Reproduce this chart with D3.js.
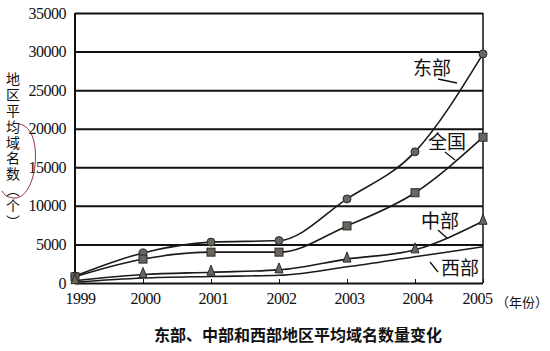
<!DOCTYPE html>
<html>
<head>
<meta charset="utf-8">
<script src="https://cdn.jsdelivr.net/npm/d3@7"></script>
<style>
  body { margin: 0; background: #fff; }
  svg { display: block; }
</style>
</head>
<body>
<svg id="plot" width="550" height="351"></svg>
<script>
// data
let years = [1999, 2000, 2001, 2002, 2003, 2004, 2005];
let east = [900, 3900, 5300, 5500, 10900, 17000, 29700];      // 东部
let nation = [800, 3100, 4000, 4000, 7400, 11700, 18900];     // 全国
let central = [300, 1100, 1400, 1700, 3100, 4300, 8000];      // 中部
let west = [100, 650, 850, 1000, 2100, 3400, 4700];           // 西部
let y_ticks = [0, 5000, 10000, 15000, 20000, 25000, 30000, 35000];
let y_title = "地区平均域名数（个）";

let svg = d3.select("#plot");
let plot_left = 75, plot_right = 483, plot_top = 13, plot_bottom = 283;
let numFont = "'Liberation Serif', 'DejaVu Serif', serif";
let cjkFont = "'Noto Sans CJK SC', sans-serif";

let x_scale = d3.scaleLinear([1999, 2005], [plot_left, plot_right]);
let y_scale = d3.scaleLinear([0, 35000], [plot_bottom, plot_top]);

// gridlines + y labels
let y_ax = svg.append("g")
  .attr("transform", `translate(${plot_left},0)`)
  .call(d3.axisLeft(y_scale).tickValues(y_ticks).tickSize(-(plot_right - plot_left)).tickPadding(9).tickFormat(d3.format("d")));
y_ax.select(".domain").remove();
y_ax.selectAll("line").attr("stroke", "#111").attr("stroke-width", 2);
y_ax.selectAll("text").attr("font-family", numFont).attr("font-size", 16).attr("fill", "#111").attr("letter-spacing", -0.5);

// frame sides
svg.append("line").attr("x1", plot_left).attr("x2", plot_left).attr("y1", plot_top).attr("y2", plot_bottom)
  .attr("stroke", "#111").attr("stroke-width", 2);
svg.append("line").attr("x1", plot_right).attr("x2", plot_right).attr("y1", plot_top).attr("y2", plot_bottom)
  .attr("stroke", "#111").attr("stroke-width", 1.5);

// x axis, ticks pointing inward
let x_ax = svg.append("g")
  .attr("transform", `translate(0,${plot_bottom})`)
  .call(d3.axisBottom(x_scale).tickValues(years).tickSize(-4).tickPadding(10).tickFormat(d3.format("d")));
x_ax.select(".domain").remove();
x_ax.selectAll("line").attr("stroke", "#111").attr("stroke-width", 1);
x_ax.selectAll("text").attr("font-family", numFont).attr("font-size", 16).attr("fill", "#111")
  .attr("dx", (d) => d == 1999 ? 5 : d == 2005 ? -6 : 2).attr("letter-spacing", -0.5);

svg.append("text").attr("x", 496).attr("y", 307)
  .attr("font-family", cjkFont).attr("font-size", 13).attr("fill", "#111")
  .text("（年份）");

// lines
let line = d3.line().x((d, i) => x_scale(years[i])).y((d) => y_scale(d)).curve(d3.curveMonotoneX);
let series = [east, nation, central, west];
svg.append("g").selectAll("path")
  .data(series)
  .join("path")
  .attr("d", line)
  .attr("fill", "none")
  .attr("stroke", "#1a1a1a")
  .attr("stroke-width", 1.6);

let markFill = "#6b6560", markStroke = "#2b2826";

// 东部: round markers
svg.append("g").selectAll("circle")
  .data(east)
  .join("circle")
  .attr("cx", (d, i) => x_scale(years[i]))
  .attr("cy", (d) => y_scale(d))
  .attr("r", 4)
  .attr("fill", markFill)
  .attr("stroke", markStroke);

// 全国: squares
svg.append("g").selectAll("rect")
  .data(nation)
  .join("rect")
  .attr("x", (d, i) => x_scale(years[i]) - 4)
  .attr("y", (d) => y_scale(d) - 4)
  .attr("width", 8)
  .attr("height", 8)
  .attr("fill", markFill)
  .attr("stroke", markStroke);

// 中部: triangles
svg.append("g").selectAll("path")
  .data(central)
  .join("path")
  .attr("transform", (d, i) => `translate(${x_scale(years[i])},${y_scale(d)})`)
  .attr("d", "M0,-7L4,3L-4,3Z")
  .attr("fill", markFill)
  .attr("stroke", markStroke);

// series labels with leader lines
let labels = [
  {t: "东部", x: 432, y: 75, l: [438, 79, 457, 83]},
  {t: "全国", x: 447, y: 149, l: [445, 152, 455, 160]},
  {t: "中部", x: 440, y: 228, l: [438, 230, 447, 238]},
  {t: "西部", x: 460, y: 275, l: [430, 262, 438, 272]}
];
svg.append("g").selectAll("text")
  .data(labels)
  .join("text")
  .attr("x", (d) => d.x)
  .attr("y", (d) => d.y)
  .attr("text-anchor", "middle")
  .attr("font-family", cjkFont)
  .attr("font-size", 19)
  .attr("fill", "#111")
  .text((d) => d.t);
svg.append("g").selectAll("line")
  .data(labels)
  .join("line")
  .attr("x1", (d) => d.l[0]).attr("y1", (d) => d.l[1])
  .attr("x2", (d) => d.l[2]).attr("y2", (d) => d.l[3])
  .attr("stroke", "#111").attr("stroke-width", 1.3);

// vertical y title
svg.append("text")
  .attr("x", 13)
  .attr("y", 72)
  .attr("font-family", cjkFont)
  .attr("font-size", 14)
  .attr("letter-spacing", 1.8)
  .attr("fill", "#111")
  .style("writing-mode", "vertical-rl")
  .style("text-orientation", "upright")
  .text(y_title);

// hand-drawn red pen mark
svg.append("path")
  .attr("d", "M19,124 C33,126 37,146 35,165 C33,184 25,198 15,198 C8,198 4,195 2,191")
  .attr("fill", "none")
  .attr("stroke", "#9a2b3c")
  .attr("stroke-width", 1);

// caption
svg.append("text")
  .attr("x", 298)
  .attr("y", 341)
  .attr("text-anchor", "middle")
  .attr("font-family", cjkFont)
  .attr("font-weight", "bold")
  .attr("font-size", 16)
  .attr("fill", "#111")
  .text("东部、中部和西部地区平均域名数量变化");
</script>
</body>
</html>
